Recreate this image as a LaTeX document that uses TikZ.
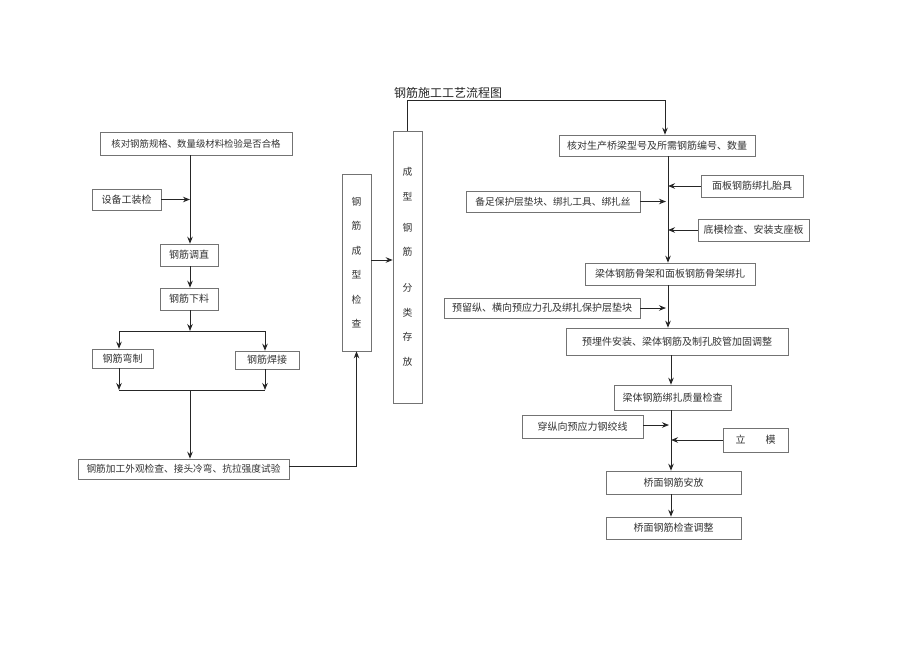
\documentclass[tikz,border=0pt]{standalone}
\usepackage{fontspec}
\setmainfont{Noto Sans CJK SC}
\usetikzlibrary{arrows.meta}
\begin{document}
\begin{tikzpicture}[x=1pt,y=-1pt,
 box/.style={draw=black!55, line width=0.6pt, fill=white, inner sep=0pt, text=black!80, font=\fontsize{10}{12}\selectfont},
 vbox/.style={box, align=center, font=\fontsize{9.8}{24.5}\selectfont},
 arr/.style={draw=black!85, line width=1pt, -{Stealth[length=7pt,width=5.5pt]}},
 ln/.style={draw=black!85, line width=1pt}]
\useasboundingbox[fill=white] (0,0) rectangle (920,651);
% title
\node[font=\fontsize{12}{14}\selectfont, text=black!85] (T) at (448,93) {钢筋施工工艺流程图};
% left column
\node[box, minimum width=192pt, minimum height=23pt, font=\fontsize{9.4}{11}\selectfont] (L1) at (196,143.5) {核对钢筋规格、数量级材料检验是否合格};
\node[box, minimum width=69pt, minimum height=21pt] (L2) at (126.5,199.5) {设备工装检};
\node[box, minimum width=58pt, minimum height=22pt] (L3) at (189,255) {钢筋调直};
\node[box, minimum width=58pt, minimum height=22pt] (L4) at (189,299) {钢筋下料};
\node[box, minimum width=61pt, minimum height=19pt] (L5) at (122.5,358.5) {钢筋弯制};
\node[box, minimum width=64pt, minimum height=18pt] (L6) at (267,360) {钢筋焊接};
\node[box, minimum width=211pt, minimum height=20pt, font=\fontsize{9.7}{11}\selectfont] (L7) at (183.5,469) {钢筋加工外观检查、接头冷弯、抗拉强度试验};
% middle
\node[vbox, minimum width=29pt, minimum height=177pt] (M1) at (356.5,262.5) {钢\\筋\\成\\型\\检\\查};
\node[vbox, minimum width=29pt, minimum height=272pt] (M2) at (407.5,267) {成\\[0pt]型\\[6.5pt]钢\\筋\\[11.5pt]分\\类\\存\\放};
% right column
\node[box, minimum width=196pt, minimum height=21pt] (R1) at (657,145.5) {核对生产桥梁型号及所需钢筋编号、数量};
\node[box, minimum width=102pt, minimum height=22pt] (R2) at (752,186) {面板钢筋绑扎胎具};
\node[box, minimum width=174pt, minimum height=21pt, font=\fontsize{9.7}{11}\selectfont] (R3) at (553,201.5) {备足保护层垫块、绑扎工具、绑扎丝};
\node[box, minimum width=111pt, minimum height=22pt] (R4) at (753.5,230) {底模检查、安装支座板};
\node[box, minimum width=170pt, minimum height=22pt] (R5) at (670,274) {梁体钢筋骨架和面板钢筋骨架绑扎};
\node[box, minimum width=196pt, minimum height=20pt] (R6) at (542,308) {预留纵、横向预应力孔及绑扎保护层垫块};
\node[box, minimum width=222pt, minimum height=27pt] (R7) at (677,341.5) {预埋件安装、梁体钢筋及制孔胶管加固调整};
\node[box, minimum width=117pt, minimum height=25pt] (R8) at (672.5,397.5) {梁体钢筋绑扎质量检查};
\node[box, minimum width=121pt, minimum height=23pt] (R9) at (582.5,426.5) {穿纵向预应力钢绞线};
\node[box, minimum width=65pt, minimum height=24pt] (R10) at (755.5,440) {立\hspace{20pt}模};
\node[box, minimum width=135pt, minimum height=23pt] (R11) at (673.5,482.5) {桥面钢筋安放};
\node[box, minimum width=135pt, minimum height=22pt] (R12) at (673.5,528) {桥面钢筋检查调整};
% left connectors
\coordinate (lt) at (190,0);
\draw[arr] (L1.south -| lt) -- (L3.north -| lt);
\draw[arr] (L2.east) -- (L2.east -| lt);
\draw[arr] (L3.south -| lt) -- (L4.north -| lt);
\coordinate (sp) at (190,331);
\coordinate (a1) at (119,331);
\coordinate (a2) at (265,331);
\draw[arr] (L4.south -| lt) -- (sp);
\draw[ln] (a1) -- (a2);
\draw[arr] (a1) -- (a1 |- L5.north);
\draw[arr] (a2) -- (a2 |- L6.north);
\coordinate (b1) at (119,390);
\coordinate (b2) at (265,390);
\coordinate (mj) at (190,390);
\draw[arr] (L5.south -| b1) -- (b1);
\draw[arr] (L6.south -| b2) -- (b2);
\draw[ln] (b1) -- (b2);
\draw[arr] (mj) -- (L7.north -| mj);
\draw[arr] ([yshift=3pt]L7.east) -| (M1.south);
\draw[arr] ([yshift=2.5pt]M1.east) -- ([yshift=2.5pt]M1.east -| M2.west);
\draw[arr] (M2.north) -- ++(0,-30) -| ([xshift=8pt]R1.north);
% right connectors
\coordinate (rt) at (668,0);
\coordinate (rt2) at (671,0);
\draw[arr] (R1.south -| rt) -- (R5.north -| rt);
\draw[arr] (R2.west) -- (R2.west -| rt);
\draw[arr] (R3.east) -- ([xshift=-2pt]R3.east -| rt);
\draw[arr] (R4.west) -- (R4.west -| rt);
\draw[arr] (R5.south -| rt) -- (R7.north -| rt);
\draw[arr] (R6.east) -- ([xshift=-2pt]R6.east -| rt);
\draw[arr] (R7.south -| rt2) -- (R8.north -| rt2);
\draw[arr] (R8.south -| rt2) -- (R11.north -| rt2);
\draw[arr] ([yshift=1.5pt]R9.east) -- ([yshift=1.5pt,xshift=-2pt]R9.east -| rt2);
\draw[arr] (R10.west) -- (R10.west -| rt2);
\draw[arr] (R11.south -| rt2) -- (R12.north -| rt2);
\end{tikzpicture}
\end{document}
